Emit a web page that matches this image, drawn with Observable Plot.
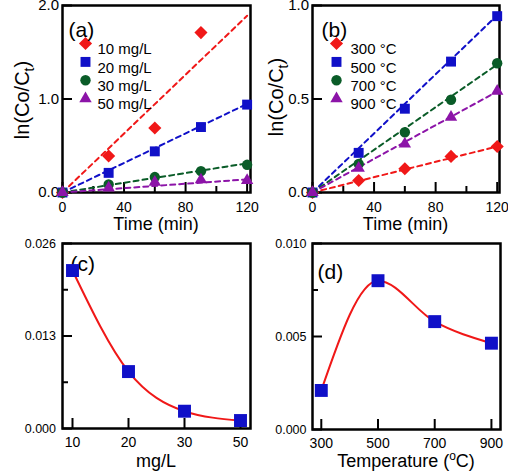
<!DOCTYPE html>
<html><head><meta charset="utf-8">
<script src="https://cdn.jsdelivr.net/npm/d3@7"></script>
<script src="https://cdn.jsdelivr.net/npm/@observablehq/plot@0.6"></script>
<style>
body{margin:0;background:#fff;}
#wrap{position:relative;width:508px;height:473px;overflow:hidden;font-family:"Liberation Sans",Arial,sans-serif;}
#wrap svg{position:absolute;}
</style></head><body><div id="wrap"></div>
<script>
// ---------- data ----------
// Panel (a): ln(Co/Ct) vs time for different concentrations
const timeA = [0, 30, 60, 90, 120];
const concLabels = ["10 mg/L", "20 mg/L", "30 mg/L", "50 mg/L"];
const lnA10 = [0, 0.39, 0.69, 1.71];
const lnA20 = [0, 0.21, 0.44, 0.70, 0.94];
const lnA30 = [0, 0.086, 0.165, 0.228, 0.296];
const lnA50 = [0, 0.05, 0.11, 0.136, 0.13];
const fitSlopeA = [0.01575, 0.0079, 0.0026, 0.00117];
// Panel (b): ln(Co/Ct) vs time for different temperatures
const timeB = [0, 30, 60, 90, 120];
const tempLabels = ["300 °C", "500 °C", "700 °C", "900 °C"];
const lnB300 = [0, 0.064, 0.127, 0.193, 0.246];
const lnB500 = [0, 0.212, 0.448, 0.70, 0.943];
const lnB700 = [0, 0.153, 0.322, 0.496, 0.691];
const lnB900 = [0, 0.13, 0.26, 0.403, 0.542];
const fitSlopeB = [0.00205, 0.0079, 0.0057, 0.0045];
// Panel (c): kapp vs concentration
const concCats = [10, 20, 30, 50];
const kappC = [0.0222, 0.0080, 0.00243, 0.00112];
// Panel (d): kapp vs temperature
const temps = [300, 500, 700, 900];
const kappD = [0.0021, 0.0080, 0.0058, 0.00464];
// tick values
const timeTicksMajor = [0, 40, 80, 120];
const timeTicksMinor = [20, 60, 100];
const yTicksA = [0, 1, 2];
const yTicksB = [0, 0.5, 1];
const yTicksC = [0, 0.013, 0.026];
const yMinorC = [0.0065, 0.0195];
const yTicksD = [0, 0.005, 0.010];
const yMinorD = [0.0075];

// ---------- styles ----------
const FONT = '"Liberation Sans", Arial, Helvetica, sans-serif';
const colors = ["#f01818", "#1010c8", "#0a5c28", "#8c14a8"];
const symbols = ["diamond2", "square", "circle", "triangle"];
const radii = [5.9, 5.6, 5.2, 4.6];
const squareBlue = "#1010c8";
const curveRed = "#f01818";
const baseStyle = {fontFamily: FONT, fontSize: "14px", color: "black", background: "transparent", overflow: "visible"};
const wrap = document.getElementById("wrap");

function place(svg, left, top) {
  svg.style.left = left + "px";
  svg.style.top = top + "px";
  wrap.appendChild(svg);
  return svg;
}
function frameAndTicks({fw, fh, xMajor, xMinor, yMajor, yMinor}) {
  const m = [Plot.frame({stroke: "black", strokeWidth: 2.5})];
  if (xMinor) m.push(Plot.tickX(xMinor, {x: d => d, stroke: "black", strokeWidth: 2, insetTop: fh - 6}));
  m.push(Plot.tickX(xMajor, {x: d => d, stroke: "black", strokeWidth: 2, insetTop: fh - 10}));
  if (yMinor) m.push(Plot.tickY(yMinor, {y: d => d, stroke: "black", strokeWidth: 2, insetRight: fw - 6}));
  m.push(Plot.tickY(yMajor, {y: d => d, stroke: "black", strokeWidth: 2, insetRight: fw - 10}));
  return m;
}
function legendMarks(labels, dxSym, dxText, dy0, step) {
  return labels.flatMap((lab, i) => [
    Plot.dot([lab], {frameAnchor: "top-left", dx: dxSym, dy: dy0 + i * step, symbol: symbols[i], fill: colors[i], r: radii[i]}),
    Plot.text([lab], {frameAnchor: "top-left", dx: dxText, dy: dy0 + i * step, text: d => d, textAnchor: "start", fontSize: 15, fill: "black"})
  ]);
}
function panelLabel(txt, dx, dy) {
  return Plot.text([txt], {frameAnchor: "top-left", dx, dy, text: d => d, textAnchor: "start", fontSize: 21, fill: "black"});
}
function yTitle(svg, x, y, main, sub, rest) {
  const t = d3.select(svg).append("text")
    .attr("transform", `translate(${x},${y}) rotate(-90)`)
    .attr("text-anchor", "middle").attr("font-size", 20).attr("fill", "black").attr("font-family", FONT);
  t.append("tspan").text(main);
  t.append("tspan").attr("font-size", 14).attr("dy", 5).text(sub);
  t.append("tspan").attr("dy", -5).text(rest);
}
function xTitle(svg, x, y, main, sup, rest) {
  const t = d3.select(svg).append("text")
    .attr("x", x).attr("y", y)
    .attr("text-anchor", "middle").attr("font-size", 18).attr("fill", "black").attr("font-family", FONT);
  t.append("tspan").text(main);
  if (sup) {
    t.append("tspan").attr("font-size", 12).attr("dy", -7).text(sup);
    t.append("tspan").attr("dy", 7).text(rest);
  }
}

// ---------- panel (a) ----------
{
  const W = 254, H = 220, ml = 62, mr = 4, mt = 5, mb = 28;
  const fw = W - ml - mr, fh = H - mt - mb;
  const seriesA = [lnA10, lnA20, lnA30, lnA50];
  const tExt = d3.extent(timeA);
  const svg = Plot.plot({
    width: W, height: H, marginLeft: ml, marginRight: mr, marginTop: mt, marginBottom: mb,
    style: baseStyle,
    x: {type: "linear", domain: [0, 122.2]},
    y: {type: "linear", domain: [0, 2]},
    marks: [
      ...frameAndTicks({fw, fh, xMajor: timeTicksMajor, xMinor: timeTicksMinor, yMajor: yTicksA}),
      Plot.axisX({ticks: timeTicksMajor, tickSize: 0, tickPadding: 10, fontSize: 14, label: null}),
      Plot.axisY({ticks: yTicksA, tickSize: 0, tickPadding: 3.5, tickFormat: d3.format(".1f"), fontSize: 15, label: null}),
      ...fitSlopeA.map((k, i) => Plot.line(tExt, {x: d => d, y: d => k * d, stroke: colors[i], strokeWidth: 2, strokeDasharray: "5,4"})),
      ...seriesA.map((s, i) => Plot.dot(s, {x: (d, j) => timeA[j], y: d => d, symbol: symbols[i], fill: colors[i], r: radii[i]})),
      ...legendMarks(concLabels, 23, 35, 38, 18.4),
      panelLabel("(a)", 6, 17)
    ]
  });
  place(svg, 0, 0);
  yTitle(svg, 29, 100, "ln(Co/C", "t", ")");
  xTitle(svg, ml + fw / 2, 230, "Time (min)");
}

// ---------- panel (b) ----------
{
  const W = 254, H = 220, ml = 58, mr = 9, mt = 5, mb = 28;
  const fw = W - ml - mr, fh = H - mt - mb;
  const seriesB = [lnB300, lnB500, lnB700, lnB900];
  const tExt = d3.extent(timeB);
  const svg = Plot.plot({
    width: W, height: H, marginLeft: ml, marginRight: mr, marginTop: mt, marginBottom: mb,
    style: baseStyle,
    x: {type: "linear", domain: [0, 121.5]},
    y: {type: "linear", domain: [0, 1]},
    marks: [
      ...frameAndTicks({fw, fh, xMajor: timeTicksMajor, xMinor: timeTicksMinor, yMajor: yTicksB}),
      Plot.axisX({ticks: timeTicksMajor, tickSize: 0, tickPadding: 10, fontSize: 14, label: null}),
      Plot.axisY({ticks: yTicksB, tickSize: 0, tickPadding: 3.5, tickFormat: d3.format(".1f"), fontSize: 15, label: null}),
      ...fitSlopeB.map((k, i) => Plot.line(tExt, {x: d => d, y: d => k * d, stroke: colors[i], strokeWidth: 2, strokeDasharray: "5,4"})),
      ...seriesB.map((s, i) => Plot.dot(s, {x: (d, j) => timeB[j], y: d => d, symbol: symbols[i], fill: colors[i], r: radii[i]})),
      ...legendMarks(tempLabels, 24, 38, 38, 18.4),
      panelLabel("(b)", 9, 17)
    ]
  });
  place(svg, 254, 0);
  yTitle(svg, 29, 97, "ln(Co/C", "t", ")");
  xTitle(svg, ml + fw / 2, 230, "Time (min)");
}

// ---------- panel (c) ----------
{
  const W = 254, H = 253, ml = 62, mr = 4, mt = 23, mb = 45;
  const fw = W - ml - mr, fh = H - mt - mb;
  const svg = Plot.plot({
    width: W, height: H, marginLeft: ml, marginRight: mr, marginTop: mt, marginBottom: mb,
    style: baseStyle,
    x: {type: "point", domain: concCats, padding: 0.16},
    y: {type: "linear", domain: [0, 0.026]},
    marks: [
      ...frameAndTicks({fw, fh, xMajor: concCats, yMajor: yTicksC, yMinor: yMinorC}),
      Plot.axisX({tickSize: 0, tickPadding: 9, fontSize: 14, label: null}),
      Plot.axisY({ticks: yTicksC, tickSize: 0, tickPadding: 6.5, tickFormat: d3.format(".3f"), fontSize: 12.5, label: null}),
      panelLabel("(c)", 8, 13),
      Plot.line(kappC, {x: (d, i) => concCats[i], y: d => d, curve: "monotone-x", stroke: curveRed, strokeWidth: 2}),
      Plot.dot(kappC, {x: (d, i) => concCats[i], y: d => d, symbol: "square", fill: squareBlue, r: 7.3})
    ]
  });
  place(svg, 0, 220);
  yTitle(svg, 18, 336, "k", "app", "(1/min)");
  xTitle(svg, ml + fw / 2, 247, "mg/L");
}

// ---------- panel (d) ----------
{
  const W = 254, H = 253, ml = 58, mr = 8, mt = 23, mb = 44;
  const fw = W - ml - mr, fh = H - mt - mb;
  const svg = Plot.plot({
    width: W, height: H, marginLeft: ml, marginRight: mr, marginTop: mt, marginBottom: mb,
    style: baseStyle,
    x: {type: "linear", domain: [269, 932]},
    y: {type: "linear", domain: [0, 0.010]},
    marks: [
      ...frameAndTicks({fw, fh, xMajor: temps, yMajor: yTicksD, yMinor: yMinorD}),
      Plot.axisX({ticks: temps, tickSize: 0, tickPadding: 9, fontSize: 14, label: null}),
      Plot.axisY({ticks: yTicksD, tickSize: 0, tickPadding: 6, tickFormat: d3.format(".3f"), fontSize: 12.5, label: null}),
      panelLabel("(d)", 5, 21),
      Plot.line(kappD, {x: (d, i) => temps[i], y: d => d, curve: "monotone-x", stroke: curveRed, strokeWidth: 2}),
      Plot.dot(kappD, {x: (d, i) => temps[i], y: d => d, symbol: "square", fill: squareBlue, r: 7.3})
    ]
  });
  place(svg, 254, 220);
  yTitle(svg, 18, 337, "k", "app", "(1/min)");
  xTitle(svg, ml + fw / 2, 247, "Temperature (", "o", "C)");
}
</script></body></html>
